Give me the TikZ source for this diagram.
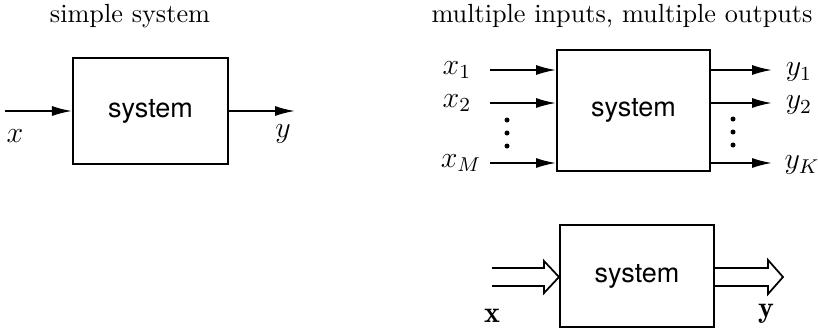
\documentclass[tikz,border=0pt]{standalone}
\usepackage{fontspec}
\newfontfamily\helv{TeX Gyre Heros}
\usetikzlibrary{arrows.meta,calc}

\begin{document}
\begin{tikzpicture}[x=0.4pt,y=-0.4pt,
        title/.style={font=\fontsize{10.5}{12.6}\selectfont},
        lbl/.style={font=\fontsize{12}{14}\selectfont},
        sysbox/.style={draw,line width=0.8pt,inner sep=0pt,font=\helv\fontsize{10.8}{13}\selectfont},
        sig/.style={line width=0.7pt,-{Latex[length=8pt,width=4pt]}},
        vec/.style={line width=0.7pt,line join=miter}]
        \useasboundingbox (0,0) rectangle (818,328);
        % simple system
        \node [title] (t1) at (130,16) {simple system};
        \node [sysbox,minimum width=62pt,minimum height=42.4pt] (s1) at (150.5,111) {system};
        \coordinate (xin) at (5,111);
        \coordinate (yout) at (295,111);
        \draw [sig] (xin) -- (s1);
        \draw [sig] (s1) -- (yout);
        \node [lbl] (lx) at (15,136) {$x$};
        \node [lbl] (ly) at (283,134) {$y$};
        % multiple inputs, multiple outputs
        \node [title] (t2) at (622,16) {multiple inputs, multiple outputs};
        \node [sysbox,minimum width=61.2pt,minimum height=48.4pt] (s2) at (633.5,110.5) {system};
        \node [lbl] (x1) at (457,70) {$x_1$};
        \node [lbl] (x2) at (457,103) {$x_2$};
        \node [lbl] (xM) at (461,163) {$x_M$};
        \coordinate (i1) at (490,70);
        \coordinate (i2) at (490,103);
        \coordinate (iM) at (490,163);
        \draw [sig] (i1) -- (i1 -| s2.west);
        \draw [sig] (i2) -- (i2 -| s2.west);
        \draw [sig] (iM) -- (iM -| s2.west);
        \coordinate (o1) at (772,70);
        \coordinate (o2) at (772,103);
        \coordinate (oK) at (772,163);
        \draw [sig] (o1 -| s2.east) -- (o1);
        \draw [sig] (o2 -| s2.east) -- (o2);
        \draw [sig] (oK -| s2.east) -- (oK);
        \foreach \k in {0,1,2} {
            \fill (507,120+13*\k) circle (1pt);
            \fill (733,119+13*\k) circle (1pt);
        }
        \node [lbl] (y1) at (799,72) {$y_1$};
        \node [lbl] (y2) at (799,105) {$y_2$};
        \node [lbl] (yK) at (802,165) {$y_K$};
        % vector form
        \node [sysbox,minimum width=61.6pt,minimum height=40.8pt] (s3) at (637,276) {system};
        \coordinate (vin) at (492,277);
        \coordinate (vtip) at (vin -| s3.west);
        \coordinate (vout) at (783,277);
        \draw [vec] ($(vin)+(0,-9)$) -- ($(vtip)+(-15,-9)$) -- ($(vtip)+(-15,-16)$) -- (vtip)
            -- ($(vtip)+(-15,16)$) -- ($(vtip)+(-15,9)$) -- ($(vin)+(0,9)$);
        \draw [vec] ($(s3.east |- vout)+(0,-9)$) -- ($(vout)+(-15,-9)$) -- ($(vout)+(-15,-17)$) -- (vout)
            -- ($(vout)+(-15,17)$) -- ($(vout)+(-15,9)$) -- ($(s3.east |- vout)+(0,9)$);
        \node [lbl] (lvx) at (492,316) {$\mathbf{x}$};
        \node [lbl] (lvy) at (766,314) {$\mathbf{y}$};
\end{tikzpicture}
\end{document}
